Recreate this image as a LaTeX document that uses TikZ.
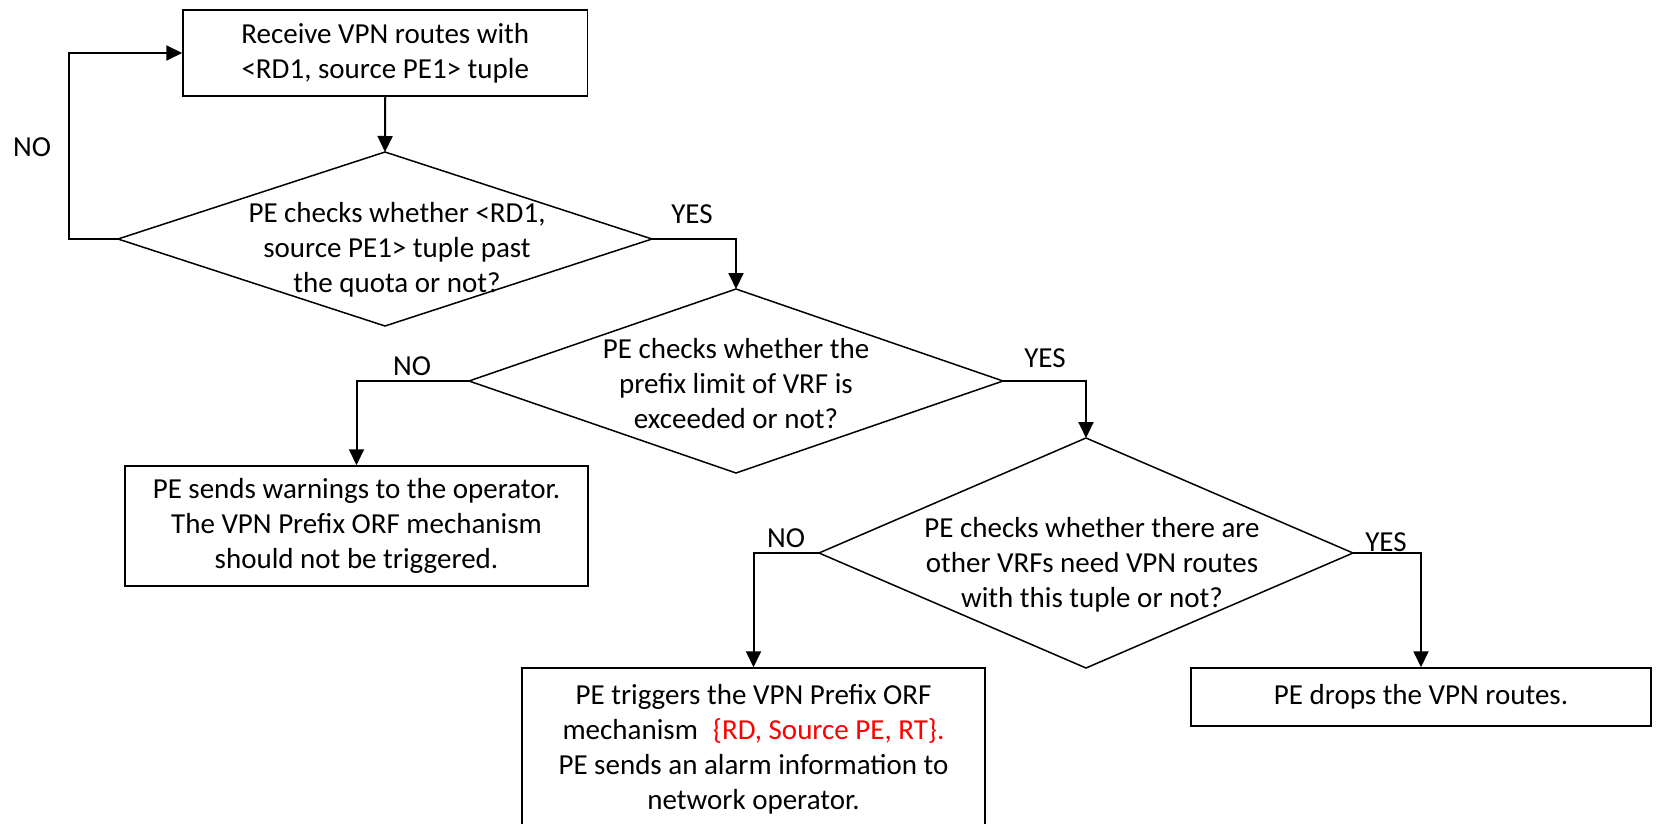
\documentclass[tikz,border=0pt]{standalone}
\usepackage{fontspec}
\setmainfont{Carlito}
\usetikzlibrary{arrows.meta,shapes.geometric}
\tikzset{
  txt/.style={font={\fontsize{29}{35}\selectfont}, align=center, inner sep=0pt},
  procbox/.style={draw, line width=1.5pt, txt, inner sep=0pt},
  decision/.style={draw, shape=diamond, line width=1.5pt, inner sep=0pt, outer sep=0pt},
  conn/.style={line width=2pt, -{Triangle[length=16pt,width=15pt]}},
  branch/.style={txt}
}
\begin{document}
\begin{tikzpicture}[x=1pt, y=-1pt]
  \useasboundingbox (0,0) rectangle (1657,824);
  \clip (0,0) rectangle (1657,824);

  % process boxes
  \node[procbox, minimum width=404.5pt, minimum height=86pt] (recv) at (385.25,53)
    {Receive VPN routes with\\{<}RD1, source PE1{>} tuple};
  \node[procbox, minimum width=463pt, minimum height=120pt] (warn) at (356.5,526)
    {PE sends warnings to the operator.\\The VPN Prefix ORF mechanism\\should not be triggered.};
  \node[procbox, minimum width=463pt, minimum height=162pt] (trig) at (753.5,749)
    {PE triggers the VPN Prefix ORF\\mechanism\hspace{15pt}\textcolor{red}{\{RD, Source PE, RT\}.}\\PE sends an alarm information to\\network operator.};
  \node[procbox, minimum width=460pt, minimum height=58pt] (drop) at (1421,697)
    {PE drops the VPN routes.};

  % decisions
  \node[decision, minimum width=534pt, minimum height=174pt] (quota) at (385,239) {};
  \node[txt] (quotat) at (397,250) {PE checks whether {<}RD1,\\source PE1{>} tuple past\\the quota or not?};

  \node[decision, minimum width=534pt, minimum height=184pt] (limit) at (736,381) {};
  \node[txt] (limitt) at (736,384) {PE checks whether the\\prefix limit of VRF is\\exceeded or not?};

  \node[decision, minimum width=534pt, minimum height=230pt] (other) at (1086,553) {};
  \node[txt] (othert) at (1092,565) {PE checks whether there are\\other VRFs need VPN routes\\with this tuple or not?};

  % connectors
  \draw[conn] (recv.south) -- (quota.north);
  \draw[conn] (quota.west) -- ++(-49,0) |- (recv.west);
  \draw[conn] (quota.east) -| (limit.north);
  \draw[conn] (limit.west) -| (warn.north);
  \draw[conn] (limit.east) -| (other.north);
  \draw[conn] (other.west) -| (trig.north);
  \draw[conn] (other.east) -| (drop.north);

  % branch labels
  \node[branch] (no1) at (32,147) {NO};
  \node[branch] (yes1) at (692,214) {YES};
  \node[branch] (no2) at (412,366) {NO};
  \node[branch] (yes2) at (1045,358) {YES};
  \node[branch] (no3) at (786,538) {NO};
  \node[branch] (yes3) at (1386,542) {YES};
\end{tikzpicture}
\end{document}
